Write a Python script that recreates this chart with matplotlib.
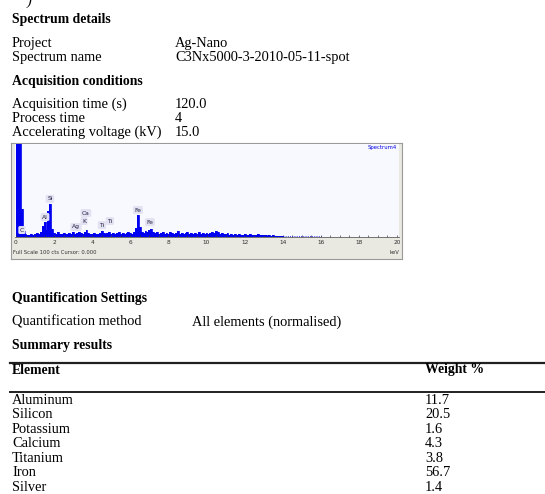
import numpy as np
import matplotlib
matplotlib.use("Agg")
import matplotlib.pyplot as plt
from matplotlib.lines import Line2D

# ---------------- data ----------------
spectrum_details = [("Project", "Ag-Nano"),
                    ("Spectrum name", "C3Nx5000-3-2010-05-11-spot")]
acquisition = [("Acquisition time (s)", "120.0"),
               ("Process time", "4"),
               ("Accelerating voltage (kV)", "15.0")]
quant_method = ("Quantification method", "All elements (normalised)")

elements = ["Aluminum", "Silicon", "Potassium", "Calcium", "Titanium", "Iron", "Silver"]
weight_pct = ["11.7", "20.5", "1.6", "4.3", "3.8", "56.7", "1.4"]

# EDS spectrum: counts per 0.1 keV channel, starting at 0.0 keV
channel_width_keV = 0.1
counts = [300, 400, 400, 30, 6, 3, 2, 2, 3, 2,
          3, 4, 3, 5, 12, 16, 7, 28, 35, 9,
          4, 3, 5, 3, 3, 4, 3, 3, 4, 3,
          5, 3, 4, 5, 4, 3, 5, 7, 4, 3,
          3, 4, 3, 3, 4, 6, 4, 3, 4, 5,
          3, 4, 3, 4, 5, 3, 4, 3, 4, 5,
          4, 3, 5, 10, 24, 11, 5, 4, 6, 5,
          8, 9, 5, 4, 5, 3, 4, 5, 3, 4,
          3, 5, 4, 3, 4, 6, 3, 4, 3, 4,
          5, 3, 4, 3, 4, 3, 5, 3, 4, 3,
          4, 3, 4, 5, 4, 6, 5, 3, 4, 3,
          3, 4, 2, 3, 2, 3, 2, 3, 2, 2,
          3, 2, 2, 3, 2, 2, 2, 3, 2, 2,
          2, 2, 1, 2, 1, 2, 1, 1, 1, 1,
          1]
peak_labels = ["C", "Al", "Si", "Ag", "K", "Ca", "Ti", "Ti", "Fe", "Fe"]
peak_label_keV = [0.31, 1.52, 1.78, 3.15, 3.57, 3.67, 4.51, 4.93, 6.40, 7.03]
peak_label_cts = [7.5, 21.5, 41.0, 10.8, 17.2, 25.8, 12.9, 17.2, 29.0, 16.0]
x_ticks = [0, 2, 4, 6, 8, 10, 12, 14, 16, 18, 20]

# ---------------- figure ----------------
W, H = 545, 494
fig = plt.figure(figsize=(W / 100, H / 100), dpi=100)
fig.patch.set_facecolor("white")

SERIF = ["Liberation Serif", "DejaVu Serif"]
FS = 10.4
FSB = 9.9


def fx(x):
    return x / W


def fy(y):
    return 1 - y / H


def T(x, y, s, bold=False, size=None, **kw):
    if size is None:
        size = FSB if bold else FS
    fig.text(fx(x), fy(y), s, fontsize=size, family=SERIF,
             fontweight="bold" if bold else "normal", va="center", ha="left", **kw)


# clipped fragment at top
T(27, 1, ")", size=FS, style="italic")

T(12, 20, "Spectrum details", bold=True)
for i, (k, v) in enumerate(spectrum_details):
    T(12, 44 + 14 * i, k)
    T(175, 44 + 14 * i, v)
T(12, 82, "Acquisition conditions", bold=True)
for i, (k, v) in enumerate(acquisition):
    T(12, 104 + 14 * i, k)
    T(175, 104 + 14 * i, v)

# spectrum frame
frame = fig.add_axes([fx(11), fy(259), fx(402) - fx(11), fy(143) - fy(259)])
frame.set_facecolor("#e9e9e1")
frame.set_xticks([])
frame.set_yticks([])
for s in frame.spines.values():
    s.set_color("#9a9a9a")
    s.set_linewidth(0.8)

px_per_keV = (397 - 16) / 20.0
ax = fig.add_axes([fx(15), fy(237), fx(399) - fx(15), fy(144) - fy(237)])
ax.set_facecolor("#f8f8ff")
ax.set_xlim((15 - 16) / px_per_keV, (399 - 16) / px_per_keV)
ax.set_ylim(0, 100)
energy = np.arange(len(counts)) * channel_width_keV
ax.fill_between(energy, counts, 0, step="mid", color="#0000f0", linewidth=0)
ax.step(energy, counts, where="mid", color="#0000f0", linewidth=0.6)
ax.plot([14.0, 16.0], [1, 1], color="#0000f0", linewidth=0.6, linestyle=":")
for lab, e, c in zip(peak_labels, peak_label_keV, peak_label_cts):
    ax.text(e, c, lab, fontsize=4.3, family="DejaVu Sans", ha="center", va="center",
            color="#202040",
            bbox=dict(boxstyle="round,pad=0.25", fc="#e2e2f2", ec="none"))
ax.text(0.995, 0.985, "Spectrum4", transform=ax.transAxes, fontsize=3.8,
        color="#0000e0", ha="right", va="top", family="DejaVu Sans")
ax.set_xticks(x_ticks)
ax.set_xticklabels([str(t) for t in x_ticks], fontsize=4.2, color="#303030",
                   family="DejaVu Sans")
ax.set_xticks(np.arange(0, 20.01, 0.5), minor=True)
ax.tick_params(axis="x", which="both", direction="in", length=1.5, width=0.5,
               color="#404040", pad=2.5)
ax.set_yticks([])
for s in ["top", "right", "left"]:
    ax.spines[s].set_visible(False)
ax.spines["bottom"].set_color("#606060")
ax.spines["bottom"].set_linewidth(0.6)
fig.text(fx(13), fy(252), "Full Scale 100 cts Cursor: 0.000", fontsize=3.8,
         family="DejaVu Sans", color="#303030", va="center", ha="left")
fig.text(fx(399), fy(252), "keV", fontsize=3.8, family="DejaVu Sans",
         color="#303030", va="center", ha="right")

T(12, 298, "Quantification Settings", bold=True)
T(12, 322, quant_method[0])
T(192, 322, quant_method[1])
T(12, 346, "Summary results", bold=True)

# table rules
fig.add_artist(Line2D([fx(10), 1.0], [fy(363), fy(363)], color="#202020", linewidth=1.6))
fig.add_artist(Line2D([fx(10), 1.0], [fy(392), fy(392)], color="#202020", linewidth=1.4))
T(12, 370, "Element", bold=True)
T(425, 370, "Weight %", bold=True)
for i, (el, w) in enumerate(zip(elements, weight_pct)):
    T(12, 400 + 14.5 * i, el)
    T(425, 400 + 14.5 * i, w)

fig.savefig("out.png", dpi=100)
